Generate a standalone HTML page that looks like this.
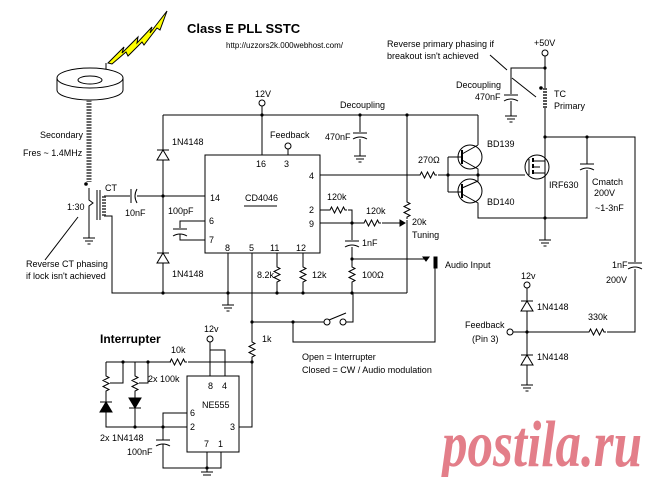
<!DOCTYPE html>
<html><head><meta charset="utf-8"><style>
html,body{margin:0;padding:0;background:#fff}
svg{display:block}
text{font-family:"Liberation Sans",sans-serif;font-size:9px;fill:#000}
</style></head><body>
<svg width="660" height="477" viewBox="0 0 660 477" xmlns="http://www.w3.org/2000/svg">
<defs>
<g id="gnd"><line x1="0" y1="-6" x2="0" y2="0" stroke="#000"/><line x1="-6" y1="0" x2="6" y2="0" stroke="#000"/><line x1="-4" y1="3" x2="4" y2="3" stroke="#000"/><line x1="-1.5" y1="6" x2="1.5" y2="6" stroke="#000"/></g>
<g id="rv"><path d="M0,0 l0,2 l3,1.5 l-6,3 l6,3 l-6,3 l6,3 l-3,1.5 l0,2" fill="none" stroke="#000"/></g>
<g id="rh"><path d="M0,0 l2,0 l1.5,-3 l3,6 l3,-6 l3,6 l3,-6 l1.5,3 l2,0" fill="none" stroke="#000"/></g>
<g id="cv"><line x1="-7" y1="-2" x2="7" y2="-2" stroke="#000"/><path d="M-7,4 Q0,0 7,4" fill="none" stroke="#000"/></g>
<g id="ch"><line x1="-2" y1="-7" x2="-2" y2="7" stroke="#000"/><path d="M4,-7 Q0,0 4,7" fill="none" stroke="#000"/></g>
<g id="dup"><polygon points="-6,5 6,5 0,-5" fill="#fff" stroke="#000"/><line x1="-6" y1="-5" x2="6" y2="-5" stroke="#000"/></g>
<g id="oc"><circle r="3" fill="#fff" stroke="#000"/></g>
</defs>
<g stroke="#000" fill="none" stroke-width="1">
<polygon points="108,63 124,47 122,53 138,37 137,43 152,27 150,33 167,11 160,30 157,28 144,45 142,42 128,56 126,52 112,64" fill="#ffff00"/>
<line x1="106" y1="63" x2="106" y2="72"/>
<path d="M57,78 L57,90 A33,10 0 0 0 123,90 L123,78" fill="#fff"/>
<ellipse cx="90" cy="78" rx="33" ry="10" fill="#fff"/>
<ellipse cx="90" cy="80" rx="12" ry="4"/>
<line x1="89" y1="100" x2="89" y2="182" stroke="#666" stroke-width="5" stroke-dasharray="2 1"/>
<circle cx="86" cy="184" r="1.3" fill="#000"/>
<path d="M89,188 L89,200 L93,203 L89,206 L89,232"/>
<line x1="97" y1="190" x2="97" y2="220"/><line x1="100" y1="190" x2="100" y2="220"/>
<line x1="104" y1="196" x2="104" y2="216" stroke="#666" stroke-width="4" stroke-dasharray="2 1"/>
<line x1="104" y1="196" x2="130" y2="196"/>
<use href="#ch" x="133" y="196"/>
<line x1="137" y1="196" x2="205" y2="196"/>
<path d="M104,216 L112,216 L112,293 L407,293"/>
<use href="#gnd" x="89" y="238"/>
<line x1="78" y1="217" x2="45" y2="260"/>
<path d="M163,115 L163,150"/><use href="#dup" x="163" y="155"/><path d="M163,160 L163,253"/>
<use href="#dup" x="163" y="258"/><path d="M163,263 L163,293"/>
<line x1="163" y1="115" x2="478" y2="115"/>
<rect x="205" y="155" width="115" height="98" fill="#fff"/>
<line x1="244" y1="206" x2="277" y2="206"/>
<path d="M262,106 L262,155"/><use href="#oc" x="262" y="103"/>
<path d="M288,149 L288,155"/><use href="#oc" x="288" y="146"/>
<path d="M205,221 L180,221 L180,228"/><path d="M205,240 L180,240 L180,234"/>
<line x1="173" y1="229" x2="187" y2="229"/><path d="M173,236 Q180,232 187,236"/>
<path d="M228,253 L228,299"/><use href="#gnd" x="228" y="305"/>
<path d="M252,253 L252,340"/><use href="#rv" x="252" y="340"/><path d="M252,357 L252,427 L239,427"/>
<path d="M277,253 L277,265"/><use href="#rv" x="277" y="265"/><path d="M277,282 L277,293"/>
<path d="M303,253 L303,265"/><use href="#rv" x="303" y="265"/><path d="M303,282 L303,293"/>
<path d="M320,175 L418,175"/><use href="#rh" x="418" y="175"/><path d="M438,175 L478,175"/>
<path d="M320,210 L328,210"/><use href="#rh" x="328" y="210"/><path d="M348,210 L352,210 L352,240"/>
<path d="M320,223 L362,223"/><use href="#rh" x="362" y="223"/><path d="M382,223 L400,223"/>
<polygon points="400,220 405,223 400,226" fill="#000"/>
<path d="M407,115 L407,200"/><use href="#rv" x="407" y="200"/><path d="M407,220 L407,293"/>
<use href="#cv" x="352" y="243"/><path d="M352,247 L352,265"/>
<use href="#rv" x="352" y="265"/><path d="M352,282 L352,293"/>
<path d="M352,259 L425,259"/><polygon points="423,257 429,257 426,261" fill="#000"/>
<rect x="434" y="257" width="3" height="11" fill="#000"/>
<path d="M435,268 L435,342 L293,342 L293,322"/>
<path d="M360,115 L360,132"/><use href="#cv" x="360" y="135"/><path d="M360,139 L360,150"/><use href="#gnd" x="360" y="156"/>
<path d="M252,322 L324,322"/><use href="#oc" x="327" y="322"/><use href="#oc" x="343" y="322"/>
<line x1="329" y1="320" x2="346" y2="313"/><path d="M346,322 L353,322 L353,293"/>
<path d="M478,115 L478,145"/>
<circle cx="470" cy="157" r="12" fill="#fff"/><circle cx="470" cy="191" r="12" fill="#fff"/>
<line x1="462" y1="150" x2="462" y2="164" stroke-width="2"/><line x1="462" y1="184" x2="462" y2="198" stroke-width="2"/>
<path d="M462,154 L478,145 M462,160 L478,169 L478,175 M462,188 L478,181 L478,175 M462,194 L478,203 L478,218 L545,218"/>
<path d="M448,157 L448,192 M448,157 L462,157 M448,192 L462,192"/>
<path d="M478,175 L525,175"/>
<circle cx="537" cy="167" r="12" fill="#fff"/>
<line x1="529" y1="159" x2="529" y2="175"/><line x1="533" y1="158" x2="533" y2="176" stroke-width="2" stroke-dasharray="4 2"/>
<path d="M533,161 L545,161 M533,173 L545,173 M533,167 L540,167"/>
<use href="#oc" x="545" y="53"/><path d="M545,56 L545,88 M545,68 L511,68 L511,94"/>
<use href="#cv" x="511" y="97"/><path d="M511,101 L511,110"/><use href="#gnd" x="511" y="116"/>
<line x1="545" y1="88" x2="545" y2="108" stroke="#555" stroke-width="4" stroke-dasharray="2 1"/>
<circle cx="541" cy="88" r="1.3" fill="#000"/>
<path d="M545,108 L545,234"/><use href="#gnd" x="545" y="240"/>
<path d="M545,137 L635,137 L635,262 M587,137 L587,164 M587,170 L587,218 L545,218"/>
<use href="#cv" x="587" y="166"/>
<use href="#cv" x="635" y="265"/>
<path d="M635,269 L635,332 L607,332"/><use href="#rh" x="587" y="332"/><path d="M587,332 L513,332"/>
<line x1="490" y1="55" x2="507" y2="70"/><line x1="512" y1="78" x2="536" y2="97"/>
<use href="#oc" x="527" y="285"/><path d="M527,288 L527,301"/><use href="#dup" x="527" y="306"/><path d="M527,311 L527,355"/>
<use href="#dup" x="527" y="360"/><path d="M527,365 L527,379"/><use href="#gnd" x="527" y="385"/>
<use href="#oc" x="510" y="332"/>
<rect x="187" y="376" width="52" height="76" fill="#fff"/>
<use href="#oc" x="210" y="339"/><path d="M210,342 L210,376 M210,350 L225,350 L225,376"/>
<path d="M106,362 L171,362"/><use href="#rh" x="168" y="362"/><path d="M188,362 L252,362"/>
<path d="M106,362 L106,374"/><use href="#rv" x="106" y="374"/><path d="M106,391 L106,402"/>
<polygon points="100,412 112,412 106,402" fill="#000"/><line x1="100" y1="402" x2="112" y2="402"/>
<path d="M106,412 L106,427 L187,427"/>
<path d="M135,362 L135,374"/><use href="#rv" x="135" y="374"/><path d="M135,391 L135,398"/>
<polygon points="129,398 141,398 135,408" fill="#000"/><line x1="129" y1="408" x2="141" y2="408"/>
<path d="M135,408 L135,427"/>
<path d="M123,362 L123,383 L110,383 M148,362 L148,383 L139,383"/>
<path d="M187,413 L163,413 L163,440"/>
<line x1="156" y1="440" x2="170" y2="440"/><path d="M156,446 Q163,442 170,446"/>
<path d="M163,444 L163,468 L221,468 L221,452 M207,452 L207,468"/>
<use href="#gnd" x="207" y="472"/>
</g>
<g fill="#000">
<circle cx="163" cy="196" r="1.6"/><circle cx="262" cy="115" r="1.6"/><circle cx="360" cy="115" r="1.6"/><circle cx="407" cy="115" r="1.6"/>
<circle cx="163" cy="293" r="1.6"/><circle cx="228" cy="293" r="1.6"/><circle cx="277" cy="293" r="1.6"/><circle cx="303" cy="293" r="1.6"/><circle cx="352" cy="293" r="1.6"/>
<circle cx="352" cy="223" r="1.6"/><circle cx="352" cy="259" r="1.6"/><circle cx="448" cy="175" r="1.6"/><circle cx="478" cy="175" r="1.6"/>
<circle cx="252" cy="322" r="1.6"/><circle cx="293" cy="322" r="1.6"/><circle cx="252" cy="362" r="1.6"/>
<circle cx="545" cy="68" r="1.6"/><circle cx="545" cy="137" r="1.6"/><circle cx="587" cy="137" r="1.6"/><circle cx="545" cy="218" r="1.6"/>
<circle cx="527" cy="332" r="1.6"/><circle cx="123" cy="362" r="1.6"/><circle cx="148" cy="362" r="1.6"/><circle cx="135" cy="427" r="1.6"/><circle cx="163" cy="427" r="1.6"/><circle cx="207" cy="468" r="1.6"/>
</g>
<text x="187" y="33" style="font-size:13px;font-weight:bold">Class E PLL SSTC</text>
<text x="226" y="48" style="font-size:8px">http://uzzors2k.000webhost.com/</text>
<text x="40" y="138">Secondary</text>
<text x="23" y="156">Fres ~ 1.4MHz</text>
<text x="105" y="191">CT</text>
<text x="67" y="210">1:30</text>
<text x="125" y="216">10nF</text>
<text x="26" y="267">Reverse CT phasing</text>
<text x="26" y="279">if lock isn't achieved</text>
<text x="172" y="145">1N4148</text>
<text x="172" y="277">1N4148</text>
<text x="168" y="214">100pF</text>
<text x="255" y="97">12V</text>
<text x="270" y="138">Feedback</text>
<text x="256" y="167">16</text><text x="284" y="167">3</text><text x="309" y="179">4</text>
<text x="210" y="201">14</text><text x="245" y="201">CD4046</text>
<text x="209" y="224">6</text><text x="209" y="243">7</text>
<text x="225" y="251">8</text><text x="249" y="251">5</text><text x="270" y="251">11</text><text x="296" y="251">12</text>
<text x="309" y="213">2</text><text x="309" y="227">9</text>
<text x="257" y="278">8.2k</text><text x="312" y="278">12k</text>
<text x="327" y="200">120k</text><text x="366" y="214">120k</text>
<text x="412" y="225">20k</text><text x="412" y="238">Tuning</text>
<text x="362" y="246">1nF</text><text x="362" y="278">100Ω</text>
<text x="445" y="268">Audio Input</text>
<text x="340" y="108">Decoupling</text><text x="325" y="140">470nF</text>
<text x="418" y="163">270Ω</text>
<text x="487" y="147">BD139</text><text x="487" y="205">BD140</text>
<text x="549" y="188">IRF630</text>
<text x="592" y="185">Cmatch</text><text x="594" y="196">200V</text><text x="595" y="211">~1-3nF</text>
<text x="534" y="46">+50V</text>
<text x="387" y="47">Reverse primary phasing if</text>
<text x="387" y="59">breakout isn't achieved</text>
<text x="456" y="88">Decoupling</text><text x="475" y="100">470nF</text>
<text x="554" y="97">TC</text><text x="554" y="109">Primary</text>
<text x="612" y="268">1nF</text><text x="606" y="283">200V</text>
<text x="521" y="279">12v</text>
<text x="537" y="310">1N4148</text><text x="537" y="360">1N4148</text>
<text x="588" y="320">330k</text>
<text x="465" y="328">Feedback</text><text x="472" y="342">(Pin 3)</text>
<text x="262" y="342">1k</text>
<text x="302" y="360">Open = Interrupter</text>
<text x="302" y="373">Closed = CW / Audio modulation</text>
<text x="100" y="343" style="font-size:12px;font-weight:bold">Interrupter</text>
<text x="171" y="353">10k</text>
<text x="204" y="332">12v</text>
<text x="148" y="382">2x 100k</text>
<text x="100" y="441">2x 1N4148</text>
<text x="127" y="455">100nF</text>
<text x="208" y="389">8</text><text x="222" y="389">4</text>
<text x="202" y="408">NE555</text>
<text x="190" y="416">6</text><text x="190" y="430">2</text><text x="230" y="430">3</text>
<text x="204" y="447">7</text><text x="218" y="447">1</text>
<text x="442" y="466" textLength="200" lengthAdjust="spacingAndGlyphs" style="font-family:'Liberation Serif',serif;font-size:66px;font-weight:bold;font-style:italic;fill:#e37e89">postila.ru</text>
</svg>
</body></html>
